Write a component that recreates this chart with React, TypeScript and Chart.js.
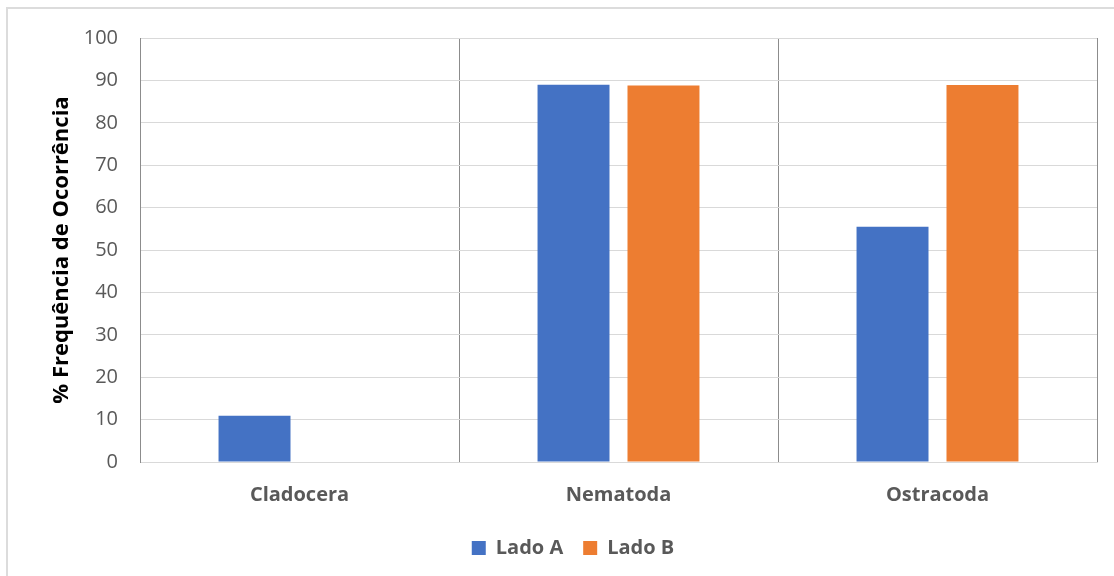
import React, { useEffect, useRef } from "react";
import { Chart, registerables } from "chart.js";

Chart.register(...registerables);

// Grupos taxonômicos e frequência de ocorrência (%) em cada lado
const categories = ["Cladocera", "Nematoda", "Ostracoda"];
const ladoA = [10.9, 89.0, 55.5];
const ladoB = [0, 88.8, 88.9];
const seriesNames = ["Lado A", "Lado B"];
const yTicks = { min: 0, max: 100, step: 10 };

const FONT = "'Open Sans', 'Liberation Sans', sans-serif";

export default function App() {
  const canvasRef = useRef<HTMLCanvasElement | null>(null);

  useEffect(() => {
    const canvas = canvasRef.current;
    if (!canvas) return;
    const chart = new Chart(canvas, {
      type: "bar",
      data: {
        labels: categories,
        datasets: [
          {
            label: seriesNames[0],
            data: ladoA,
            backgroundColor: "#4472C4",
            categoryPercentage: 0.564,
            barPercentage: 0.8,
          },
          {
            label: seriesNames[1],
            data: ladoB,
            backgroundColor: "#ED7D31",
            categoryPercentage: 0.564,
            barPercentage: 0.8,
          },
        ],
      },
      options: {
        animation: false,
        responsive: false,
        maintainAspectRatio: false,
        layout: { padding: { left: 49, top: 38, right: 17, bottom: 8 } },
        plugins: {
          tooltip: { enabled: false },
          legend: {
            position: "bottom",
            labels: {
              boxWidth: 14,
              boxHeight: 14,
              padding: 20,
              color: "#595959",
              font: { family: FONT, size: 20, weight: "bold" },
            },
          },
        },
        scales: {
          x: {
            offset: true,
            grid: {
              offset: true,
              color: "#8c8c8c",
              lineWidth: 1,
              drawTicks: false,
            },
            border: { color: "#d9d9d9", width: 1 },
            ticks: {
              padding: 21,
              color: "#595959",
              font: { family: FONT, size: 20, weight: "bold" },
            },
            afterFit: (scale: any) => {
              scale.height = 56;
            },
          },
          y: {
            min: yTicks.min,
            max: yTicks.max,
            grid: { color: "#d9d9d9", lineWidth: 1, drawTicks: false },
            border: { color: "#8c8c8c", width: 1 },
            ticks: {
              stepSize: yTicks.step,
              padding: 22,
              color: "#595959",
              font: { family: FONT, size: 20 },
            },
            title: {
              display: true,
              text: "% Frequência de Ocorrência",
              color: "#000000",
              padding: 0,
              font: { family: FONT, size: 22, weight: "bold" },
            },
            afterFit: (scale: any) => {
              scale.width = 91;
            },
          },
        },
      },
    });
    return () => chart.destroy();
  }, []);

  return (
    <div
      style={{
        position: "fixed",
        left: 0,
        top: 0,
        width: 1114,
        height: 576,
        background: "#ffffff",
        overflow: "hidden",
      }}
    >
      <div
        style={{
          position: "absolute",
          left: 6,
          top: 7,
          width: 1120,
          height: 600,
          borderTop: "2px solid #dcdcdc",
          borderLeft: "2px solid #dcdcdc",
        }}
      />
      <canvas
        ref={canvasRef}
        width={1114}
        height={576}
        style={{ position: "absolute", left: 0, top: 0, width: 1114, height: 576 }}
      />
    </div>
  );
}
